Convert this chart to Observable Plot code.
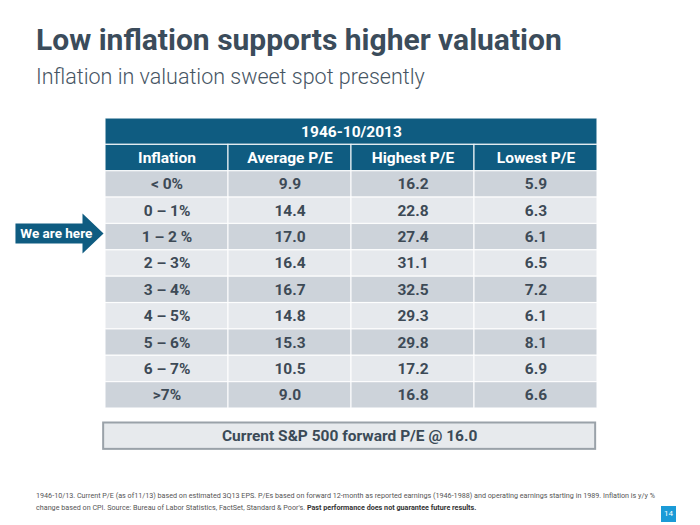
<!DOCTYPE html>
<html>
<head>
<meta charset="utf-8">
<script src="https://cdn.jsdelivr.net/npm/d3@7"></script>
<script src="https://cdn.jsdelivr.net/npm/@observablehq/plot@0.6"></script>
<style>
  html, body { margin: 0; padding: 0; background: #fff; }
  #page { position: relative; width: 700px; height: 525px; overflow: hidden; font-family: Roboto, "Open Sans", sans-serif; }
  #title { position: absolute; left: 36px; top: 22px; font-size: 30px; font-weight: 700; color: #3b4c5b; line-height: 36px; white-space: nowrap; }
  #subtitle { position: absolute; left: 36px; top: 64px; font-size: 21.5px; font-weight: 300; color: #465563; line-height: 26px; white-space: nowrap; }
  #chart { position: absolute; left: 0; top: 100px; }
  #note { position: absolute; left: 36px; top: 490px; width: 640px; font-size: 7.2px; line-height: 11.5px; color: #555; }
  #note div { white-space: nowrap; }
  #note b { color: #333; }
  #pg { position: absolute; left: 661px; top: 506px; width: 15px; height: 16px; background: #1b9bd7; color: #fff; font-size: 8px; line-height: 16px; text-align: center; }
</style>
</head>
<body>
<div id="page">
  <div id="title">Low inflation supports higher valuation</div>
  <div id="subtitle">Inflation in valuation sweet spot presently</div>
  <div id="chart"></div>
  <div id="note">
    <div>1946-10/13. Current P/E (as of11/13) based on estimated 3Q13 EPS. P/Es based on forward 12-month as reported earnings (1946-1988) and operating earnings starting in 1989. Inflation is y/y %</div>
    <div>change based on CPI. Source: Bureau of Labor Statistics, FactSet, Standard &amp; Poor's. <b>Past performance does not guarantee future results.</b></div>
  </div>
  <div id="pg">14</div>
</div>
<script>
// ---- data ----
const period = "1946-10/2013";
const headers = ["Inflation", "Average P/E", "Highest P/E", "Lowest P/E"];
const inflation = ["< 0%", "0 – 1%", "1 – 2 %", "2 – 3%", "3 – 4%", "4 – 5%", "5 – 6%", "6 – 7%", ">7%"];
const avgPE = [9.9, 14.4, 17.0, 16.4, 16.7, 14.8, 15.3, 10.5, 9.0];
const highPE = [16.2, 22.8, 27.4, 31.1, 32.5, 29.3, 29.8, 17.2, 16.8];
const lowPE = [5.9, 6.3, 6.1, 6.5, 7.2, 6.1, 8.1, 6.9, 6.6];
const currentLabel = "Current S&P 500 forward P/E @";
const currentPE = 16.0;
const hereLabel = "We are here";
const hereBucket = "1 – 2 %";

// ---- build cells ----
const HEAD = "#0f5c81", DARK = "#cdd3da", LIGHT = "#e6e9ed", INK = "#3d4a56";
const cells = [];
cells.push({x1: 0, x2: headers.length, row: 0, text: period, fill: HEAD, ink: "#fff"});
headers.forEach((h, i) => cells.push({x1: i, x2: i + 1, row: 1, text: h, fill: HEAD, ink: "#fff"}));
inflation.forEach((b, r) => {
  const vals = [b, avgPE[r].toFixed(1), highPE[r].toFixed(1), lowPE[r].toFixed(1)];
  vals.forEach((v, i) => cells.push({x1: i, x2: i + 1, row: r + 2, text: v, fill: r % 2 === 0 ? DARK : LIGHT, ink: INK}));
});
const nRows = inflation.length + 2;

// arrow pointing at the current bucket row (shape relative to that row)
const hr = inflation.indexOf(hereBucket) + 2;
const arrow = [
  [-0.732, hr - 0.02], [-0.187, hr - 0.02], [-0.187, hr - 0.40], [-0.016, hr + 0.36],
  [-0.187, hr + 1.12], [-0.187, hr + 0.74], [-0.732, hr + 0.74]
].map(([x, y]) => ({x, y}));

const boxY = nRows + 0.55;
const current = [{x1: -0.015, x2: headers.length - 0.015, y1: boxY, y2: boxY + 1.0, text: `${currentLabel} ${currentPE.toFixed(1)}`}];

const plot = Plot.plot({
  width: 700,
  height: 360,
  x: {type: "linear", domain: [0, headers.length], range: [105, 597]},
  y: {type: "linear", domain: [0, nRows], range: [18, 308]},
  axis: null,
  style: {fontFamily: "Roboto, 'Open Sans', sans-serif"},
  marks: [
    Plot.rect(cells, {x1: "x1", x2: "x2", y1: "row", y2: d => d.row + 1, fill: "fill", stroke: "#ffffff", strokeWidth: 1.2, strokeOpacity: 0.85}),
    Plot.text(cells, {x: d => (d.x1 + d.x2) / 2, y: d => d.row + 0.5, text: "text", fill: "ink", fontSize: 15.5, fontWeight: 700}),
    Plot.line(arrow, {x: "x", y: "y", fill: HEAD, stroke: "none", curve: "linear-closed"}),
    Plot.text([hereLabel], {x: -0.40, y: hr + 0.36, text: d => d, fill: "#fff", fontSize: 13.5, fontWeight: 700}),
    Plot.rect(current, {x1: "x1", x2: "x2", y1: "y1", y2: "y2", fill: "#e7eaed", stroke: "#9aa2a9", strokeWidth: 2}),
    Plot.text(current, {x: d => (d.x1 + d.x2) / 2, y: d => (d.y1 + d.y2) / 2, text: "text", fill: "#3b4a57", fontSize: 15.5, fontWeight: 700})
  ]
});
document.getElementById("chart").appendChild(plot);
</script>
</body>
</html>
